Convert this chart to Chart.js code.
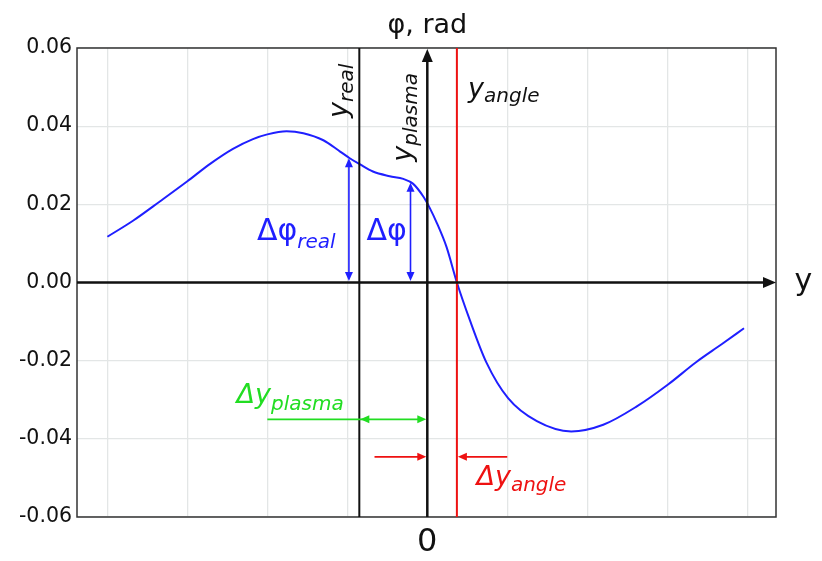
<!DOCTYPE html>
<html><head><meta charset="utf-8">
<script src="https://cdn.jsdelivr.net/npm/chart.js@4.4.1/dist/chart.umd.min.js"></script>
<style>html,body{margin:0;padding:0;background:#fff;overflow:hidden}</style>
</head><body>
<canvas id="c" width="822" height="561"></canvas>
<script>
// ---- data ----
const yPos = [-4.0,-3.68,-3.34,-3.0,-2.72,-2.43,-2.18,-2.0,-1.76,-1.55,-1.3,-1.09,-0.97,-0.84,-0.68,-0.47,-0.3,-0.18,-0.05,0.03,0.12,0.24,0.37,0.53,0.74,1.01,1.37,1.8,2.2,2.62,3.01,3.36,3.68,3.96];
const phi  = [0.0117,0.0158,0.0208,0.0259,0.0303,0.0342,0.0367,0.0379,0.0387,0.0382,0.0364,0.0335,0.0318,0.0302,0.0284,0.0272,0.0265,0.0253,0.0220,0.0191,0.0152,0.0091,0.0,-0.0095,-0.0205,-0.0296,-0.0355,-0.0381,-0.0364,-0.0317,-0.0261,-0.0204,-0.0158,-0.0117];
const yTickValues = [-0.06,-0.04,-0.02,0,0.02,0.04,0.06];
const xGridValues = [-4,-3,-2,-1,0,1,2,3,4];
const xTickLabels = ['', '', '', '', '0', '', '', '', ''];
// marker positions (axis units)
const yReal = -0.85;
const yPlasma = 0;
const yAngle = 0.37;
const dPhiRealArrow = [-0.98, 0, 0.0318];
const dPhiArrow = [-0.21, 0, 0.0255];
const dyPlasmaArrow = [-2.0, yReal, yPlasma, -0.035];
const dyAngleArrow = [-0.66, yPlasma, 1.0, yAngle, -0.0446];

const FONT = '"DejaVu Sans", sans-serif';
const BLUE = '#1f1fff', GREEN = '#22dd22', RED = '#ee1111', BLACK = '#111';

function arrowHead(ctx, x, y, ang, len, w, color){
  ctx.save(); ctx.fillStyle = color; ctx.translate(x,y); ctx.rotate(ang);
  ctx.beginPath(); ctx.moveTo(0,0); ctx.lineTo(-len, -w/2); ctx.lineTo(-len, w/2); ctx.closePath(); ctx.fill(); ctx.restore();
}
function line(ctx,x1,y1,x2,y2,color,lw){
  ctx.save(); ctx.strokeStyle=color; ctx.lineWidth=lw; ctx.beginPath(); ctx.moveTo(x1,y1); ctx.lineTo(x2,y2); ctx.stroke(); ctx.restore();
}
function subText(ctx, x, y, main, sub, mainFont, subFont, off, color, rot){
  ctx.save(); ctx.translate(x,y); if(rot) ctx.rotate(rot);
  ctx.fillStyle=color; ctx.textBaseline='alphabetic'; ctx.textAlign='left';
  ctx.font=mainFont; ctx.fillText(main,0,0);
  const w = ctx.measureText(main).width;
  if(sub){ ctx.font=subFont; ctx.fillText(sub,w,off); }
  ctx.restore();
}

const annot = {
  id:'annot',
  afterDatasetsDraw(chart){
    const ctx=chart.ctx, X=chart.scales.x, Y=chart.scales.y, a=chart.chartArea;
    const px=v=>X.getPixelForValue(v), py=v=>Y.getPixelForValue(v);
    ctx.save(); ctx.strokeStyle='#333'; ctx.lineWidth=1.5; ctx.strokeRect(a.left,a.top,a.right-a.left,a.bottom-a.top); ctx.restore();
    line(ctx, px(yReal), a.top, px(yReal), a.bottom, BLACK, 2);
    line(ctx, px(yAngle), a.top, px(yAngle), a.bottom, RED, 2);
    line(ctx, a.left, py(0), a.right-10, py(0), BLACK, 2.5);
    arrowHead(ctx, a.right, py(0), 0, 13, 11, BLACK);
    line(ctx, px(yPlasma), a.bottom, px(yPlasma), a.top+10, BLACK, 2.5);
    arrowHead(ctx, px(yPlasma), a.top+1, -Math.PI/2, 13, 11, BLACK);
    for(const ar of [dPhiRealArrow, dPhiArrow]){
      const x=px(ar[0]), y0=py(ar[1]), y1=py(ar[2]);
      line(ctx, x, y0-6, x, y1+6, BLUE, 1.6);
      arrowHead(ctx, x, y0-1.5, Math.PI/2, 9, 8, BLUE);
      arrowHead(ctx, x, y1, -Math.PI/2, 9, 8, BLUE);
    }
    {
      const y=py(dyPlasmaArrow[3]), xs=px(dyPlasmaArrow[0]), xa=px(dyPlasmaArrow[1]), xb=px(dyPlasmaArrow[2]);
      line(ctx, xs, y, xb-6, y, GREEN, 1.8);
      arrowHead(ctx, xa+1, y, Math.PI, 9, 8, GREEN);
      arrowHead(ctx, xb-1, y, 0, 9, 8, GREEN);
    }
    {
      const y=py(dyAngleArrow[4]);
      const x1=px(dyAngleArrow[0]), t1=px(dyAngleArrow[1]), x2=px(dyAngleArrow[2]), t2=px(dyAngleArrow[3]);
      line(ctx, x1, y, t1-6, y, RED, 1.8); arrowHead(ctx, t1-1, y, 0, 9, 8, RED);
      line(ctx, x2, y, t2+6, y, RED, 1.8); arrowHead(ctx, t2+1, y, Math.PI, 9, 8, RED);
    }
    const it = (s)=>'oblique '+s+'px '+FONT, up=(s)=>s+'px '+FONT;
    ctx.save(); ctx.fillStyle=BLACK; ctx.font=up(27); ctx.textAlign='center'; ctx.textBaseline='alphabetic';
    ctx.fillText('φ, rad', px(0), py(0.0638)); ctx.restore();
    subText(ctx, px(4.59), py(-0.0018), 'y', '', up(30), '', 0, BLACK, 0);
    subText(ctx, px(-1.01), py(0.0421), 'y', 'real', it(27), it(20), 6, BLACK, -Math.PI/2);
    subText(ctx, px(-0.21), py(0.0309), 'y', 'plasma', it(27), it(20), 6, BLACK, -Math.PI/2);
    subText(ctx, px(0.51), py(0.0475), 'y', 'angle', it(27), it(20), 5, BLACK, 0);
    subText(ctx, px(-2.13), py(0.011), 'Δφ', 'real', up(30), it(20), 8, BLUE, 0);
    subText(ctx, px(-0.76), py(0.011), 'Δφ', '', up(30), '', 0, BLUE, 0);
    subText(ctx, px(-2.385), py(-0.0309), 'Δy', 'plasma', it(27), it(20), 7, GREEN, 0);
    subText(ctx, px(0.615), py(-0.0518), 'Δy', 'angle', it(27), it(20), 6, RED, 0);
  }
};

new Chart(document.getElementById('c'), {
  type:'line',
  data:{ datasets:[{ data: yPos.map((x,i)=>({x, y:phi[i]})), borderColor:BLUE, borderWidth:2, pointRadius:0, cubicInterpolationMode:'monotone', fill:false }] },
  options:{
    responsive:false, animation:false, devicePixelRatio:1,
    layout:{ padding:{ top:48, right:46, left:0, bottom:0 } },
    plugins:{ legend:{display:false}, tooltip:{enabled:false}, title:{display:false} },
    scales:{
      x:{ type:'linear', min:-4.38, max:4.36,
        afterBuildTicks: s=>{ s.ticks = xGridValues.map(v=>({value:v})); },
        afterFit: s=>{ s.height = 44; },
        grid:{ color:'#e3e6e6', lineWidth:1.3, drawTicks:false },
        border:{ display:false },
        ticks:{ autoSkip:false, maxRotation:0, padding:6, color:BLACK, font:{family:FONT, size:32},
          callback:(v,i)=> xTickLabels[xGridValues.indexOf(v)] ?? '' } },
      y:{ type:'linear', min:-0.06, max:0.06,
        afterBuildTicks: s=>{ s.ticks = yTickValues.map(v=>({value:v})); },
        afterFit: s=>{ s.width = 77; },
        grid:{ color:'#e3e6e6', lineWidth:1.3, drawTicks:false },
        border:{ display:false },
        ticks:{ padding:5, color:BLACK, font:{family:FONT, size:20.5},
          callback:v=> (Math.abs(v)<1e-9?0:v).toFixed(2) } }
    }
  },
  plugins:[annot]
});
</script>
</body></html>
